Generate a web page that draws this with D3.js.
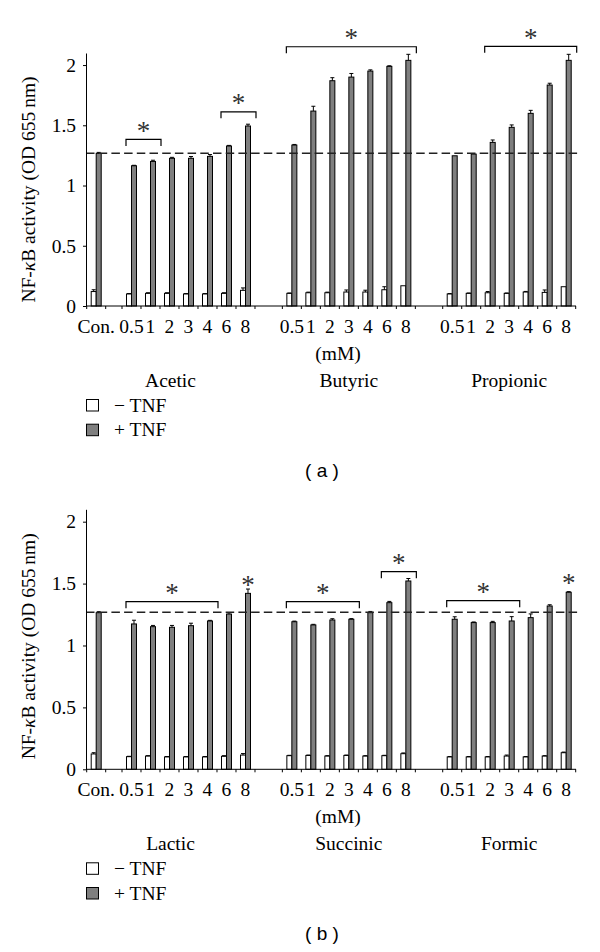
<!DOCTYPE html>
<html><head><meta charset="utf-8">
<script src="https://cdn.jsdelivr.net/npm/d3@7/dist/d3.min.js"></script>
<style>body{margin:0;background:#fff} svg{display:block}</style>
</head><body>
<svg id="chart" width="600" height="952"></svg>
<script>
// ---------- data ----------
const concentrations = ["0.5","1","2","3","4","6","8"];
const seriesKeys = ["minus","plus"];
const seriesLabels = ["− TNF","+ TNF"];
const yTicks = [0, 0.5, 1, 1.5, 2];
const controlLabel = "Con.";
const unitLabel = "(mM)";

// panel (a)
const groupsA = ["Acetic","Butyric","Propionic"];
const conValuesA = [0.12, 1.267];
const conErrorsA = [0.015, 0.008];
const aceticMinus = [0.100, 0.105, 0.105, 0.100, 0.100, 0.105, 0.130];
const aceticMinusErr = [0.003, 0.005, 0.005, 0.003, 0.003, 0.005, 0.020];
const aceticPlus = [1.164, 1.200, 1.226, 1.226, 1.242, 1.328, 1.494];
const aceticPlusErr = [0.004, 0.010, 0.008, 0.015, 0.015, 0.005, 0.015];
const butyricMinus = [0.105, 0.110, 0.110, 0.116, 0.116, 0.135, 0.168];
const butyricMinusErr = [0.003, 0.005, 0.005, 0.017, 0.015, 0.025, 0];
const butyricPlus = [1.336, 1.618, 1.870, 1.900, 1.950, 1.989, 2.039];
const butyricPlusErr = [0.005, 0.040, 0.025, 0.030, 0.010, 0.005, 0.050];
const propionicMinus = [0.100, 0.105, 0.110, 0.105, 0.116, 0.113, 0.160];
const propionicMinusErr = [0.003, 0.003, 0.010, 0.003, 0.005, 0.020, 0];
const propionicPlus = [1.247, 1.261, 1.358, 1.483, 1.599, 1.834, 2.039];
const propionicPlusErr = [0, 0, 0.020, 0.020, 0.025, 0.015, 0.050];
const sigA = [
  {group:"Acetic", from:"0.5", to:"1", level:1.383},
  {group:"Acetic", from:"6", to:"8", level:1.612},
  {group:"Butyric", from:"0.5", to:"8", level:2.152},
  {group:"Propionic", from:"2", to:"8", level:2.155}
];

// panel (b)
const groupsB = ["Lactic","Succinic","Formic"];
const conValuesB = [0.124, 1.265];
const conErrorsB = [0.010, 0.008];
const lacticMinus = [0.102, 0.107, 0.100, 0.100, 0.100, 0.105, 0.115];
const lacticMinusErr = [0.003, 0.003, 0.003, 0.003, 0.003, 0.005, 0.012];
const lacticPlus = [1.174, 1.152, 1.147, 1.160, 1.198, 1.254, 1.421];
const lacticPlusErr = [0.030, 0.010, 0.015, 0.020, 0.005, 0.010, 0.035];
const succinicMinus = [0.110, 0.112, 0.107, 0.112, 0.107, 0.110, 0.126];
const succinicMinusErr = [0.003, 0.003, 0.003, 0.003, 0.003, 0.003, 0.006];
const succinicPlus = [1.192, 1.166, 1.206, 1.212, 1.265, 1.346, 1.521];
const succinicPlusErr = [0.005, 0.005, 0.010, 0.005, 0.010, 0.010, 0.020];
const formicMinus = [0.100, 0.100, 0.100, 0.107, 0.100, 0.107, 0.134];
const formicMinusErr = [0.003, 0.003, 0.003, 0.008, 0.003, 0.003, 0.005];
const formicPlus = [1.212, 1.185, 1.185, 1.198, 1.225, 1.319, 1.430];
const formicPlusErr = [0.020, 0.005, 0.010, 0.035, 0.030, 0.010, 0.005];
const sigB = [
  {group:"Lactic", from:"0.5", to:"4", level:1.354},
  {group:"Lactic", from:"8", to:"8", level:1.515, single:true},
  {group:"Succinic", from:"0.5", to:"3", level:1.354},
  {group:"Succinic", from:"6", to:"8", level:1.596},
  {group:"Formic", from:"0.5", to:"3", level:1.362},
  {group:"Formic", from:"8", to:"8", level:1.535, single:true}
];
const controlReference = 1.268;

// ---------- drawing ----------
const SERIF = "'Liberation Serif','Times New Roman','DejaVu Serif',serif";
const svg = d3.select("#chart");
const FS = 19.5;
const STAR = 27;

function drawPanel(cfg) {
  const g = svg.append("g");
  const y0 = cfg.yBottom;
  const y = d3.scaleLinear().domain([0, 2.1]).range([cfg.yBottom, cfg.yTop]);

  const xCon = d3.scaleBand().domain([controlLabel]).range([86.7, 105.7]);
  const xGroup = d3.scaleBand().domain(cfg.groups).range([122, 575.7]).paddingInner(0.1706);
  const xConc = d3.scaleBand().domain(concentrations).range([0, xGroup.bandwidth()]);
  const xSeries = d3.scaleBand().domain(seriesKeys).range([0, xConc.bandwidth()]).paddingOuter(0.9);

  // build records
  const recs = [];
  seriesKeys.forEach((s, si) => {
    recs.push({x: xCon(controlLabel) + xSeries(s), v: cfg.conValues[si], e: cfg.conErrors[si], s});
  });
  cfg.groups.forEach((grp, gi) => {
    seriesKeys.forEach((s, si) => {
      const vals = cfg.values[gi][si], errs = cfg.errors[gi][si];
      concentrations.forEach((c, ci) => {
        recs.push({x: xGroup(grp) + xConc(c) + xSeries(s), v: vals[ci], e: errs[ci], s});
      });
    });
  });

  // bars
  g.selectAll("rect.bar").data(recs).join("rect")
    .attr("x", d => d.x).attr("width", xSeries.bandwidth())
    .attr("y", d => y(d.v)).attr("height", d => y(0) - y(d.v))
    .attr("fill", d => d.s === "plus" ? "#7f7f7f" : "#ffffff")
    .attr("stroke", "#000").attr("stroke-width", 1);

  // error bars
  const eb = recs.filter(d => d.e > 0);
  g.selectAll("line.err").data(eb).join("line")
    .attr("x1", d => d.x + xSeries.bandwidth()/2).attr("x2", d => d.x + xSeries.bandwidth()/2)
    .attr("y1", d => y(d.v)).attr("y2", d => y(d.v + d.e))
    .attr("stroke", "#000").attr("stroke-width", 1);
  g.selectAll("line.cap").data(eb).join("line")
    .attr("x1", d => d.x + xSeries.bandwidth()/2 - 2).attr("x2", d => d.x + xSeries.bandwidth()/2 + 2)
    .attr("y1", d => y(d.v + d.e)).attr("y2", d => y(d.v + d.e))
    .attr("stroke", "#000").attr("stroke-width", 1);

  // dashed reference line
  g.append("line").attr("x1", 86).attr("x2", 578)
    .attr("y1", y(controlReference)).attr("y2", y(controlReference))
    .attr("stroke", "#222").attr("stroke-width", 1.6).attr("stroke-dasharray", "8.5,4.2");

  // y axis
  const ya = g.append("g").attr("transform", "translate(86,0)")
    .call(d3.axisLeft(y).tickValues(yTicks).tickFormat(d => String(d)).tickSize(3).tickSizeOuter(0).tickPadding(7));
  ya.selectAll("text").attr("font-family", SERIF).attr("font-size", FS).attr("fill", "#000");
  ya.selectAll("line,path").attr("stroke", "#000");

  // x axis line + ticks
  g.append("line").attr("x1", 86).attr("x2", 576).attr("y1", y0).attr("y2", y0).attr("stroke", "#000");
  const tickXs = [xCon.range()[0], xCon.range()[1]];
  cfg.groups.forEach(grp => {
    concentrations.forEach(c => tickXs.push(xGroup(grp) + xConc(c)));
    tickXs.push(xGroup(grp) + xGroup.bandwidth());
  });
  g.selectAll("line.xt").data(tickXs).join("line")
    .attr("x1", d => d).attr("x2", d => d).attr("y1", y0).attr("y2", y0 + 3).attr("stroke", "#000");

  // x labels
  const labels = [{t: controlLabel, x: xCon(controlLabel) + xCon.bandwidth()/2}];
  cfg.groups.forEach(grp => concentrations.forEach(c => labels.push({t: c, x: xGroup(grp) + xConc(c) + xConc.bandwidth()/2})));
  g.selectAll("text.xl").data(labels).join("text")
    .attr("x", d => d.x).attr("y", y0 + 27).attr("text-anchor", "middle")
    .attr("font-family", SERIF).attr("font-size", FS).text(d => d.t);

  g.append("text").attr("x", 338).attr("y", y0 + 54).attr("text-anchor", "middle")
    .attr("font-family", SERIF).attr("font-size", FS).text(unitLabel);

  // group labels
  cfg.groups.forEach((grp, gi) => {
    const left = gi === 0 ? 86 : xGroup(grp);
    const cx = (left + xGroup(grp) + xGroup.bandwidth()) / 2;
    g.append("text").attr("x", cx).attr("y", y0 + 80.5).attr("text-anchor", "middle")
      .attr("font-family", SERIF).attr("font-size", FS).text(grp);
  });

  // legend
  seriesKeys.forEach((s, si) => {
    const ly = y0 + 93.5 + si * 24.7;
    g.append("rect").attr("x", 86.5).attr("y", ly).attr("width", 12).attr("height", 11.5)
      .attr("fill", s === "plus" ? "#7f7f7f" : "#fff").attr("stroke", "#000");
    g.append("text").attr("x", 114).attr("y", ly + 12).attr("font-family", SERIF).attr("font-size", FS)
      .text(seriesLabels[si]);
  });

  // y label
  const yl = g.append("text").attr("transform", `translate(35,${cfg.labelCenter}) rotate(-90)`)
    .attr("text-anchor", "middle").attr("font-family", SERIF).attr("font-size", FS);
  yl.append("tspan").text("NF-");
  yl.append("tspan").attr("font-style", "italic").text("κ");
  yl.append("tspan").text("B activity (OD 655\u2009nm)");

  // significance
  cfg.sig.forEach(sg => {
    const x1 = xGroup(sg.group) + xConc(sg.from) + 4;
    const x2 = xGroup(sg.group) + xConc(sg.to) + xConc.bandwidth() + 1;
    const ly = y(sg.level);
    if (!sg.single) {
      g.append("path").attr("d", `M${x1},${ly + 6.5}V${ly}H${x2}V${ly + 6.5}`)
        .attr("fill", "none").attr("stroke", "#000").attr("stroke-width", 1.2);
      g.append("text").attr("x", (x1 + x2) / 2).attr("y", ly + 0.5).attr("text-anchor", "middle")
        .attr("font-family", SERIF).attr("font-size", STAR).attr("fill", "#333").text("*");
    } else {
      const cx = xGroup(sg.group) + xConc(sg.from) + xSeries("plus") + xSeries.bandwidth()/2;
      g.append("text").attr("x", cx).attr("y", ly + 12.5).attr("text-anchor", "middle")
        .attr("font-family", SERIF).attr("font-size", STAR).attr("fill", "#333").text("*");
    }
  });

  // panel label
  g.append("text").attr("x", 322).attr("y", y0 + 171).attr("text-anchor", "middle")
    .attr("font-family", "'Liberation Sans',Arial,sans-serif").attr("font-size", 19)
    .text(cfg.panel);
}

drawPanel({
  panel: "( a )", yBottom: 306, yTop: 53, labelCenter: 189.5,
  groups: groupsA, conValues: conValuesA, conErrors: conErrorsA,
  values: [[aceticMinus, aceticPlus],[butyricMinus, butyricPlus],[propionicMinus, propionicPlus]],
  errors: [[aceticMinusErr, aceticPlusErr],[butyricMinusErr, butyricPlusErr],[propionicMinusErr, propionicPlusErr]],
  sig: sigA
});
drawPanel({
  panel: "( b )", yBottom: 769.3, yTop: 509.3, labelCenter: 646.3,
  groups: groupsB, conValues: conValuesB, conErrors: conErrorsB,
  values: [[lacticMinus, lacticPlus],[succinicMinus, succinicPlus],[formicMinus, formicPlus]],
  errors: [[lacticMinusErr, lacticPlusErr],[succinicMinusErr, succinicPlusErr],[formicMinusErr, formicPlusErr]],
  sig: sigB
});
</script>
</body></html>
